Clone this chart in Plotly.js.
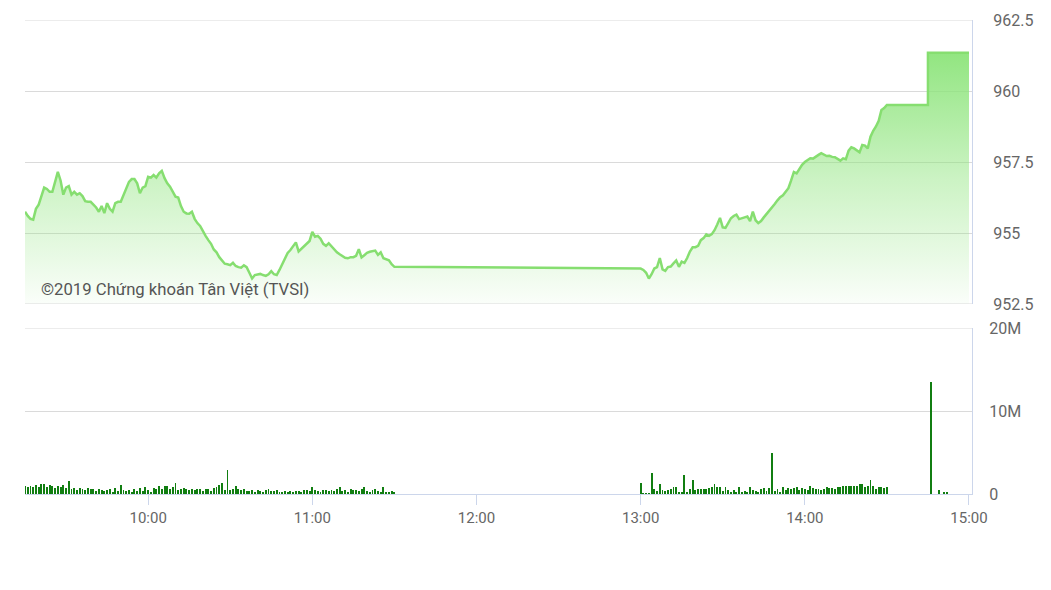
<!DOCTYPE html>
<html>
<head>
<meta charset="utf-8">
<script src="https://cdn.plot.ly/plotly-3.0.1.min.js"></script>
<style>
  html, body { margin: 0; padding: 0; background: #ffffff; }
  #chart { width: 1051px; height: 590px; }
</style>
</head>
<body>
<div id="chart"></div>
<script>
// ---- Data ----
var tradeDate = "2019-05-08";

// Morning session, one value per minute from 09:15 to 11:30
var morningStart = "09:15";
var morningPrice = [
  955.75, 955.6, 955.5, 955.47, 955.85, 956.0, 956.3, 956.6, 956.55, 956.45,
  956.45, 956.8, 957.15, 956.85, 956.35, 956.6, 956.65, 956.35, 956.45, 956.35,
  956.4, 956.3, 956.12, 956.1, 956.1, 956.0, 955.9, 955.75, 955.95, 955.7,
  956.05, 955.85, 955.75, 956.05, 956.1, 956.1, 956.35, 956.55, 956.8, 956.9,
  956.9, 956.75, 956.4, 956.6, 956.65, 956.98, 956.95, 957.04, 956.95, 957.1,
  957.19, 956.93, 956.75, 956.63, 956.45, 956.28, 956.25, 955.95, 955.75, 955.69,
  955.68, 955.75, 955.5, 955.35, 955.25, 955.05, 954.9, 954.75, 954.62, 954.42,
  954.32, 954.15, 954.02, 953.92, 953.9, 953.87, 953.95, 953.84, 953.8, 953.78,
  953.86, 953.8, 953.6, 953.4, 953.52, 953.54, 953.56, 953.52, 953.49, 953.55,
  953.66, 953.55, 953.52, 953.7, 953.9, 954.14, 954.3, 954.4, 954.55, 954.67,
  954.35, 954.45, 954.55, 954.62, 954.72, 955.04, 954.87, 954.9, 954.8, 954.62,
  954.55, 954.64, 954.52, 954.4, 954.32, 954.25, 954.18, 954.13, 954.11, 954.15,
  954.15, 954.2, 954.43, 954.14, 954.22, 954.3, 954.34, 954.37, 954.38, 954.23,
  954.32, 954.11, 954.07, 954.04, 953.9, 953.81
];
var morningVolumeM = [
  0.95, 0.9, 1.0, 0.85, 1.1, 0.9, 1.15, 1.2, 0.9, 1.1, 1.0, 0.7, 0.95, 0.8, 1.05, 0.75,
  1.57,
  0.6, 0.75, 0.5, 0.7, 0.6, 0.45, 0.7, 0.55, 0.65, 0.4, 0.55, 0.5, 0.35, 0.45, 0.6, 0.3, 0.7, 0.4,
  1.1,
  0.5, 0.35, 0.45, 0.3, 0.6, 0.4, 0.7, 0.35, 0.85, 0.5, 0.3, 0.7, 0.55,
  0.95, 0.6, 0.95, 1.0, 0.65, 0.9,
  1.37,
  0.5, 0.6, 0.75, 0.55, 0.5, 0.6, 0.45, 0.55, 0.6, 0.4, 0.55, 0.6, 0.35, 0.7, 0.8,
  1.1, 1.3, 0.5, 2.9, 0.5, 0.6, 1.0, 0.55, 0.5, 0.6,
  0.4, 0.35, 0.5, 0.3, 0.45, 0.35, 0.3, 0.5, 0.55, 0.35, 0.4, 0.5, 0.3, 0.25, 0.35, 0.3,
  0.4, 0.2, 0.35, 0.4, 0.3, 0.45, 0.5, 0.35, 0.85, 0.5, 0.4, 0.3, 0.5, 0.45, 0.35, 0.5,
  0.4, 0.55, 0.8, 0.4, 0.5, 0.3, 0.6, 0.5, 0.45, 0.35, 0.55, 0.8, 0.4, 0.3, 0.5, 0.65,
  0.4, 0.3, 0.9, 0.3, 0.25, 0.4, 0.2
];

// Afternoon session, one value per minute from 13:00 to 14:30
var afternoonStart = "13:00";
var afternoonPrice = [
  953.75, 953.7, 953.6, 953.4, 953.55, 953.75, 953.8, 954.12, 953.72, 953.67,
  953.8, 953.82, 953.93, 954.03, 953.81, 953.99, 953.95, 954.12, 954.35, 954.5,
  954.5, 954.55, 954.75, 954.82, 954.95, 954.9, 954.96, 955.1, 955.3, 955.53,
  955.2, 955.18, 955.35, 955.52, 955.6, 955.65, 955.49, 955.51, 955.55, 955.58,
  955.42, 955.75, 955.45, 955.35, 955.42, 955.55, 955.66, 955.78, 955.9, 956.02,
  956.15, 956.26, 956.33, 956.45, 956.58, 956.85, 957.15, 957.1, 957.25, 957.4,
  957.5, 957.58, 957.63, 957.62, 957.7, 957.75, 957.81, 957.76, 957.71, 957.72,
  957.68, 957.67, 957.6, 957.55, 957.63, 957.6, 957.9, 958.02, 957.98, 957.9,
  957.84, 958.1, 958.08, 957.98, 958.39, 958.6, 958.75, 958.95, 959.33, 959.4,
  959.51
];
var afternoonVolumeM = [
  1.37, 0.08, 0.08, 0.1, 2.57, 0.56, 0.4, 1.2, 0.48, 0.36,
  0.48, 0.56, 0.88, 0.8, 0.28, 0.2, 2.29, 0.28, 0.64, 1.69,
  0.48, 0.56, 0.56, 0.56, 0.56, 0.68, 0.88, 1.2, 0.88, 0.8,
  0.4, 0.8, 0.48, 0.28, 0.48, 0.28, 0.88, 0.28, 0.4, 0.28,
  0.88, 0.48, 0.4, 0.28, 0.56, 0.68, 0.4, 0.68, 5.0, 0.4,
  0.56, 0.28, 0.8, 0.48, 0.68, 0.56, 0.68, 0.88, 0.48, 0.68,
  0.56, 0.48, 0.92, 0.68, 0.56, 0.56, 0.48, 0.56, 0.8, 0.68,
  0.68, 0.56, 0.8, 0.88, 0.96, 0.96, 0.96, 0.96, 0.96, 0.96,
  1.2, 1.2, 0.88, 0.96, 1.69, 0.96, 0.56, 0.88, 0.88, 0.68,
  0.88
];

// Closing auction (ATC) and after
var closeTimes = ["14:45", "14:45", "15:00"];
var closePrice = [959.51, 961.35, 961.35];
var lateVolTimes = ["14:41", "14:46", "14:49", "14:51", "14:52", "14:55", "14:58"];
var lateVolumeM = [0.06, 13.5, 0.45, 0.22, 0.22, 0.05, 0.05];

// Axis ticks
var xTickTimes = ["10:00", "11:00", "12:00", "13:00", "14:00", "15:00"];
var priceTicks = [952.5, 955, 957.5, 960, 962.5];
var priceTickText = ["952.5", "955", "957.5", "960", "962.5"];
var volTicks = [0, 10, 20];
var volTickText = ["0", "10M", "20M"];
var copyrightText = "©2019 Chứng khoán Tân Việt (TVSI)";

// ---- Build arrays for the library ----
function pad(n) { return (n < 10 ? "0" : "") + n; }
function stamp(hhmm, addMin) {
  var p = hhmm.split(":");
  var t = parseInt(p[0], 10) * 60 + parseInt(p[1], 10) + (addMin || 0);
  return tradeDate + " " + pad(Math.floor(t / 60)) + ":" + pad(t % 60) + ":00";
}
function seriesTimes(start, n) {
  var out = [];
  for (var i = 0; i < n; i++) out.push(stamp(start, i));
  return out;
}

var priceX = seriesTimes(morningStart, morningPrice.length)
  .concat(seriesTimes(afternoonStart, afternoonPrice.length))
  .concat(closeTimes.map(function (t) { return stamp(t, 0); }));
var priceY = morningPrice.concat(afternoonPrice).concat(closePrice);

var volX = seriesTimes(morningStart, morningVolumeM.length)
  .concat(seriesTimes(afternoonStart, afternoonVolumeM.length))
  .concat(lateVolTimes.map(function (t) { return stamp(t, 0); }));
var volY = morningVolumeM.concat(afternoonVolumeM).concat(lateVolumeM)
  .map(function (v) { return v * 1e6; });

var traces = [
  {
    type: "scatter",
    mode: "lines",
    x: priceX,
    y: priceY,
    xaxis: "x",
    yaxis: "y",
    line: { color: "#86de70", width: 2.5, shape: "linear" },
    fill: "tozeroy",
    fillgradient: {
      type: "vertical",
      start: 952.5,
      stop: 961.35,
      colorscale: [
        [0, "rgba(140,228,122,0.04)"],
        [0.5, "rgba(140,228,122,0.45)"],
        [1, "rgba(140,228,122,0.95)"]
      ]
    },
    hoverinfo: "skip",
    showlegend: false
  },
  {
    type: "bar",
    x: volX,
    y: volY,
    xaxis: "x",
    yaxis: "y2",
    width: 42000,
    marker: { color: "#117e11", line: { width: 0 } },
    hoverinfo: "skip",
    showlegend: false
  }
];

var gridC = "#dadada";
var axisC = "#ccd6eb";
var tickFont = { family: "Roboto, 'Open Sans', sans-serif", size: 15, color: "#666666" };
var yTickFont = { family: "Roboto, 'Open Sans', sans-serif", size: 16, color: "#666666" };

// Edge gridlines that Plotly omits at range limits
var edgeLines = [
  { yref: "y", y: 962.5 },
  { yref: "y", y: 952.5 },
  { yref: "y2", y: 20e6 }
].map(function (e) {
  return {
    type: "line", xref: "paper", x0: 0, x1: 1,
    yref: e.yref, y0: e.y, y1: e.y,
    line: { color: gridC, width: 1 },
    layer: "above"
  };
});

var layout = {
  width: 1051,
  height: 590,
  margin: { l: 25, r: 79, t: 20, b: 96, pad: 0 },
  paper_bgcolor: "#ffffff",
  plot_bgcolor: "#ffffff",
  showlegend: false,
  bargap: 0,
  xaxis: {
    type: "date",
    anchor: "y2",
    range: [tradeDate + " 09:15:00", tradeDate + " 15:01:06"],
    tickvals: xTickTimes.map(function (t) { return stamp(t, 0); }),
    ticktext: xTickTimes,
    ticks: "outside",
    ticklen: 10,
    tickwidth: 1,
    tickcolor: axisC,
    showgrid: false,
    showline: true,
    linecolor: axisC,
    linewidth: 1,
    zeroline: false,
    tickfont: tickFont,
    fixedrange: true
  },
  yaxis: {
    domain: [0.4008, 1],
    anchor: "x",
    side: "right",
    range: [952.5, 962.5],
    tickvals: priceTicks,
    ticktext: priceTickText,
    ticks: "",
    ticklabelstandoff: 17,
    showgrid: true,
    gridcolor: gridC,
    gridwidth: 1,
    showline: true,
    linecolor: axisC,
    linewidth: 1,
    zeroline: false,
    tickfont: yTickFont,
    fixedrange: true
  },
  yaxis2: {
    domain: [0, 0.3502],
    anchor: "x",
    side: "right",
    range: [0, 20e6],
    tickvals: volTicks.map(function (v) { return v * 1e6; }),
    ticktext: volTickText,
    ticks: "",
    ticklabelstandoff: 13,
    showgrid: true,
    gridcolor: gridC,
    gridwidth: 1,
    showline: true,
    linecolor: axisC,
    linewidth: 1,
    zeroline: false,
    tickfont: yTickFont,
    fixedrange: true
  },
  shapes: edgeLines,
  annotations: [
    {
      text: copyrightText,
      xref: "paper",
      yref: "paper",
      x: 0.0145,
      y: 0.4304,
      xanchor: "left",
      yanchor: "middle",
      showarrow: false,
      font: { family: "Roboto, 'Open Sans', sans-serif", size: 16.7, color: "#555555" }
    }
  ]
};

Plotly.newPlot("chart", traces, layout, { staticPlot: true, displayModeBar: false });
</script>
</body>
</html>
